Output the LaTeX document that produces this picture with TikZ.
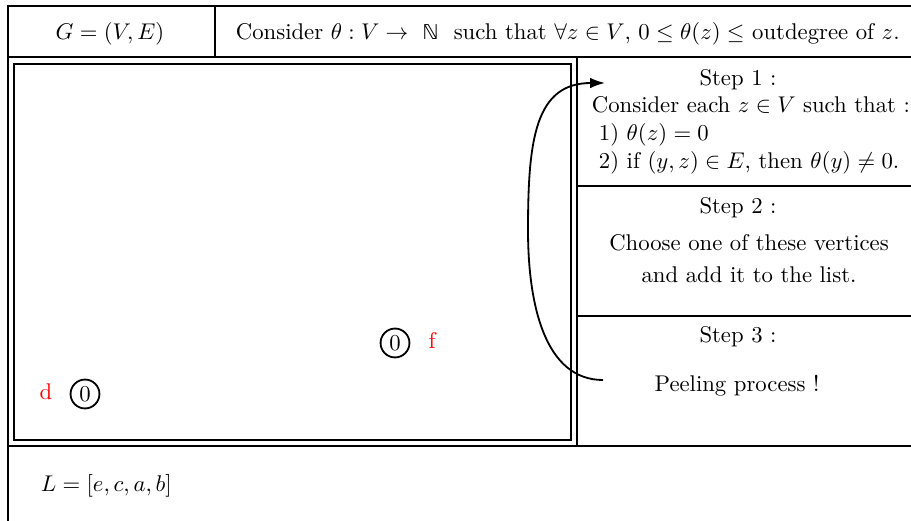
\documentclass[tikz,border=0pt]{standalone}
\usepackage{amssymb, amsmath}
\usepackage{fontspec}
\newfontfamily\dejavu[Scale=0.9]{DejaVu Sans}
\usepackage{tikz}
\usetikzlibrary{arrows.meta}
\usetikzlibrary{positioning}

\tikzset{
    txt/.style={inner sep=0pt, anchor=base},
    txtleft/.style={inner sep=0pt, anchor=base west},
    vtx/.style={draw, circle, inner sep=1.5pt},
    lbl/.style={inner sep=0pt, anchor=base, text=red},
}

\begin{document}
\begin{tikzpicture}[x=0.44pt, y=-0.44pt, >={Latex[length=6.5pt,width=4.6pt]}, thick]
    \useasboundingbox (0,0) rectangle (911,521);

    % --- Table frame ---
    \draw (8,530) -- (8,6) -- (920,6);
    \draw (8,57) -- (920,57);
    \draw (215,6) -- (215,57);
    \draw (8,446) -- (920,446);
    \draw (577,57) -- (577,446);
    \draw (577,186) -- (920,186);
    \draw (577,316) -- (920,316);
    \draw (14,64) rectangle (571,440);

    % --- Header ---
    \node[txt] (graph) at (110,40) {$G=(V,E)$};
    \node[txtleft] (thetadef) at (235,40) {Consider $\theta : V \rightarrow\ \mbox{\dejavu ℕ}\ $ such that $\forall z \in V$, $0 \leq \theta(z) \leq$ outdegree of $z$.};

    % --- Steps ---
    \node[txt] (step1) at (738,86) {Step 1 :};
    \node[txtleft] (cond) at (591,113) {Consider each $z \in V$ such that :};
    \node[txtleft] (cond1) at (598,141) {1) $\theta(z) = 0$};
    \node[txtleft] (cond2) at (598,169) {2) if $(y,z) \in E$, then $\theta(y) \neq 0$.};

    \node[txt] (step2) at (738,214) {Step 2 :};
    \node[txt] (choose) at (749,251) {Choose one of these vertices};
    \node[txt] (addlist) at (749,283) {and add it to the list.};

    \node[txt] (step3) at (738,343) {Step 3 :};
    \node[txt] (peel) at (737,392) {Peeling process !};

    % --- Remaining vertices ---
    \node[vtx] (vf) at (395,343) {0};
    \node[lbl] (lf) at (432,349) {f};
    \node[vtx] (vd) at (85,394) {0};
    \node[lbl] (ld) at (46,400) {d};

    % --- Loop back to step 1 ---
    \coordinate (loopstart) at (603,380);
    \coordinate (loopend) at (605,83);
    \draw[->] (loopstart) .. controls (545,380) and (528,305) .. (528,230)
                          .. controls (528,140) and (535,83) .. (loopend);

    % --- List ---
    \node[txtleft] (list) at (40,491) {$L=[e,c,a,b]$};
\end{tikzpicture}
\end{document}
